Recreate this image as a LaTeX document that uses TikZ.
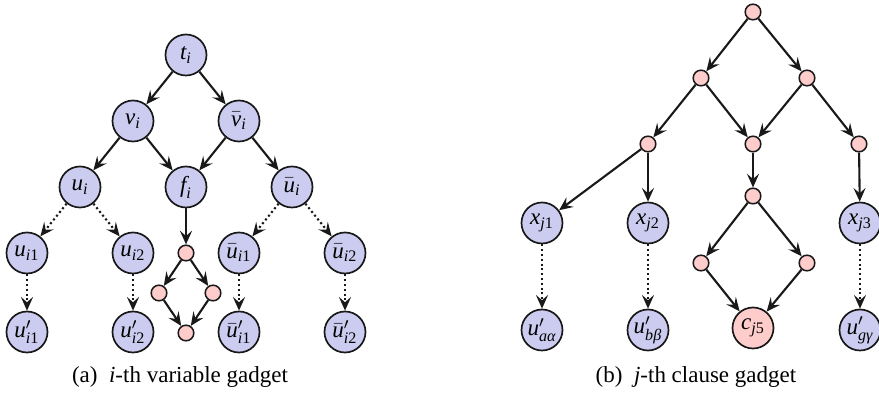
\documentclass[tikz,border=0pt]{standalone}
\usepackage{fontspec}
\setmainfont{Liberation Serif}
\usepackage{amsmath}
\usetikzlibrary{arrows.meta}

\definecolor{varfill}{RGB}{204,204,240}
\definecolor{gatefill}{RGB}{255,204,204}

% italic letters taken from the text font, usable in sub/superscripts
\newcommand{\mi}[1]{\text{\itshape #1}}

\tikzset{
  big/.style={circle, draw=black!90, line width=0.85pt, fill=varfill,
    minimum size=20.5pt, inner sep=0pt, font=\fontsize{11.5}{12}\selectfont},
  bigpink/.style={big, fill=gatefill},
  dot/.style={circle, draw=black!90, line width=0.75pt, fill=gatefill,
    minimum size=7.8pt, inner sep=0pt},
  arr/.style={-{Stealth[length=6.8pt,width=6pt,inset=2.6pt]}, line width=1.05pt, black!90},
  darr/.style={arr, dash pattern=on 1.05pt off 1.35pt},
  captext/.style={font=\fontsize{11.5}{13}\selectfont, anchor=base}
}

\begin{document}
\begin{tikzpicture}[x=0.5pt,y=-0.5pt]
\useasboundingbox (0,0) rectangle (879,394);

% ---- variable gadget ----
\node[big] (t)  at (186,55)  {$\mi{t}_{\mi{i}}$};
\node[big] (v)  at (133,121) {$\mi{v}_{\mi{i}}$};
\node[big] (vb) at (239,121) {$\bar{\mi{v}}_{\mi{i}}$};
\node[big] (u)  at (80,187)  {$\mi{u}_{\mi{i}}$};
\node[big] (f)  at (186,187) {$\mi{f}_{\mi{i}}$};
\node[big] (ub) at (292,187) {$\bar{\mi{u}}_{\mi{i}}$};
\node[big] (u1)  at (27,253)  {$\mi{u}_{\mi{i}\text{1}}$};
\node[big] (u2)  at (133,253) {$\mi{u}_{\mi{i}\text{2}}$};
\node[big] (ub1) at (239,253) {$\bar{\mi{u}}_{\mi{i}\text{1}}$};
\node[big] (ub2) at (345,253) {$\bar{\mi{u}}_{\mi{i}\text{2}}$};
\node[big] (up1)  at (27,332)  {$\mi{u}'_{\mi{i}\text{1}}$};
\node[big] (up2)  at (133,332) {$\mi{u}'_{\mi{i}\text{2}}$};
\node[big] (ubp1) at (239,332) {$\bar{\mi{u}}'_{\mi{i}\text{1}}$};
\node[big] (ubp2) at (345,332) {$\bar{\mi{u}}'_{\mi{i}\text{2}}$};
\node[dot] (p1) at (186,253) {};
\node[dot] (p2) at (159,293) {};
\node[dot] (p3) at (213,293) {};
\node[dot] (p4) at (186,333) {};

\draw[arr] (t) -- (v);
\draw[arr] (t) -- (vb);
\draw[arr] (v) -- (u);
\draw[arr] (v) -- (f);
\draw[arr] (vb) -- (f);
\draw[arr] (vb) -- (ub);
\draw[darr] (u) -- (u1);
\draw[darr] (u) -- (u2);
\draw[darr] (ub) -- (ub1);
\draw[darr] (ub) -- (ub2);
\draw[darr] (u1) -- (up1);
\draw[darr] (u2) -- (up2);
\draw[darr] (ub1) -- (ubp1);
\draw[darr] (ub2) -- (ubp2);
\draw[arr] (f) -- (p1);
\draw[arr] (p1) -- (p2);
\draw[arr] (p1) -- (p3);
\draw[arr] (p2) -- (p4);
\draw[arr] (p3) -- (p4);

\node[captext] (capa) at (180,383) {(a)\enspace \textit{i}-th variable gadget};

% ---- clause gadget ----
\node[dot] (r)  at (753,12)  {};
\node[dot] (a1) at (701,78)  {};
\node[dot] (a2) at (807,78)  {};
\node[dot] (b1) at (648,144) {};
\node[dot] (b2) at (753,144) {};
\node[dot] (b3) at (859,144) {};
\node[dot] (s)  at (753,196) {};
\node[dot] (dl) at (701,263) {};
\node[dot] (dr) at (807,263) {};
\node[big] (x1) at (542,223) {$\mi{x}_{\mi{j}\text{1}}$};
\node[big] (x2) at (648,223) {$\mi{x}_{\mi{j}\text{2}}$};
\node[big] (x3) at (860,223) {$\mi{x}_{\mi{j}\text{3}}$};
\node[big] (w1) at (542,330) {$\mi{u}'_{\mi{aα}}$};
\node[big] (w2) at (648,330) {$\mi{u}'_{\mi{bβ}}$};
\node[bigpink] (c) at (753,328) {$\mi{c}_{\mi{j}\text{5}}$};
\node[big] (w3) at (860,330) {$\mi{u}'_{\mi{gγ}}$};

\draw[arr] (r) -- (a1);
\draw[arr] (r) -- (a2);
\draw[arr] (a1) -- (b1);
\draw[arr] (a1) -- (b2);
\draw[arr] (a2) -- (b2);
\draw[arr] (a2) -- (b3);
\draw[arr] (b1) -- (x1);
\draw[arr] (b1) -- (x2);
\draw[arr] (b2) -- (s);
\draw[arr] (b3) -- (x3);
\draw[arr] (s) -- (dl);
\draw[arr] (s) -- (dr);
\draw[arr] (dl) -- (c);
\draw[arr] (dr) -- (c);
\draw[darr] (x1) -- (w1);
\draw[darr] (x2) -- (w2);
\draw[darr] (x3) -- (w3);

\node[captext] (capb) at (696,383) {(b)\enspace \textit{j}-th clause gadget};
\end{tikzpicture}
\end{document}
